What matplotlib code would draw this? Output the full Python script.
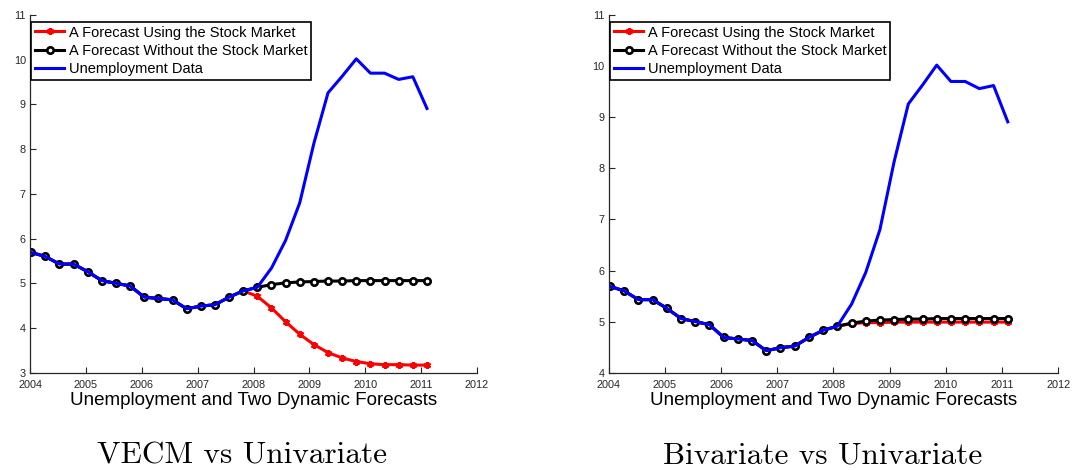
#!/usr/bin/env python3

import numpy as np
import matplotlib

matplotlib.use("Agg")
from matplotlib import pyplot as plt

plt.rcParams["font.family"] = ["Liberation Sans", "DejaVu Sans"]

# quarterly observations, 2004Q1 .. 2011Q1
quarters = np.arange(29)
dates = 2004.02 + quarters * 0.253

unemployment = [
    5.69, 5.60, 5.43, 5.43, 5.26, 5.06, 5.00, 4.94, 4.69, 4.66,
    4.63, 4.43, 4.49, 4.52, 4.69, 4.83, 4.91, 5.34, 5.96, 6.80,
    8.13, 9.26, 9.63, 10.02, 9.70, 9.70, 9.56, 9.62, 8.91,
]

univariate = [
    5.69, 5.60, 5.43, 5.43, 5.26, 5.06, 5.00, 4.94, 4.69, 4.66,
    4.63, 4.43, 4.49, 4.52, 4.69, 4.83, 4.91, 4.97, 5.01, 5.03,
    5.04, 5.05, 5.05, 5.06, 5.06, 5.06, 5.06, 5.06, 5.06,
]

vecm = [
    5.69, 5.60, 5.43, 5.43, 5.26, 5.06, 5.00, 4.94, 4.69, 4.66,
    4.63, 4.43, 4.49, 4.52, 4.69, 4.83, 4.71, 4.45, 4.14, 3.86,
    3.63, 3.45, 3.33, 3.25, 3.20, 3.18, 3.18, 3.17, 3.17,
]

bivariate = [
    5.69, 5.60, 5.43, 5.43, 5.26, 5.06, 5.00, 4.94, 4.69, 4.66,
    4.63, 4.43, 4.49, 4.52, 4.69, 4.83, 4.91, 4.96, 4.98, 4.98,
    4.99, 4.99, 4.99, 4.99, 4.99, 4.99, 4.99, 4.99, 4.99,
]

panels = [
    ("VECM vs Univariate", vecm, 3),
    ("Bivariate vs Univariate", bivariate, 4),
]

axis_grey = "#262626"


def draw_panel(ax, caption, stock_forecast, y_low):
    ax.plot(dates, stock_forecast, color="red", lw=2.2, marker=(6, 2, 0),
            ms=5, mew=1.6, label="A Forecast Using the Stock Market")
    ax.plot(dates, univariate, color="black", lw=2.2, marker="o", ms=4.6,
            mew=1.9, mfc="white", label="A Forecast Without the Stock Market")
    ax.plot(dates, unemployment, color="blue", lw=2.2,
            label="Unemployment Data")

    ax.set_xlim(2004, 2012)
    ax.set_ylim(y_low, 11)
    ax.set_xticks(range(2004, 2013))
    ax.set_yticks(range(y_low, 12))
    ax.tick_params(direction="in", labelsize=7.8, length=4, width=0.8,
                   colors=axis_grey)
    ax.tick_params(axis="x", pad=5)
    ax.tick_params(axis="y", pad=3)
    for side in ("top", "right"):
        ax.spines[side].set_visible(False)
    for side in ("left", "bottom"):
        ax.spines[side].set_color(axis_grey)
        ax.spines[side].set_linewidth(0.9)

    ax.set_xlabel("Unemployment and Two Dynamic Forecasts", fontsize=13.5,
                  labelpad=2)
    leg = ax.legend(loc="upper left", fontsize=10.5, handlelength=2.0,
                    bbox_to_anchor=(0.0, 0.985), borderaxespad=0.1,
                    borderpad=0.25, labelspacing=0.3, handletextpad=0.3,
                    fancybox=False, framealpha=1)
    leg.get_frame().set_edgecolor("black")
    leg.get_frame().set_linewidth(1.2)

    pos = ax.get_position()
    ax.figure.text(pos.x0 + pos.width * 0.475, 0.002, caption,
                   fontfamily="cmr10", fontsize=22.5, ha="center",
                   va="bottom")


fig = plt.figure(figsize=(10.72, 4.70), dpi=100)
ax_left = fig.add_axes([0.028, 0.207, 0.417, 0.761])
ax_right = fig.add_axes([0.568, 0.207, 0.419, 0.761])

for ax, (caption, stock_forecast, y_low) in zip((ax_left, ax_right), panels):
    draw_panel(ax, caption, stock_forecast, y_low)

fig.savefig("out.png", dpi=100)
